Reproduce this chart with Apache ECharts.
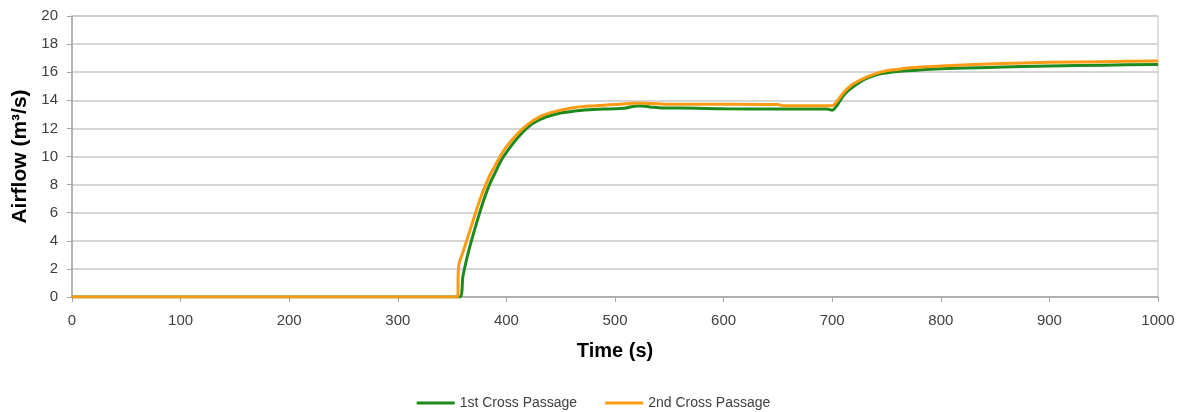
<!DOCTYPE html>
<html><head><meta charset="utf-8">
<script src="https://cdn.jsdelivr.net/npm/echarts@6/dist/echarts.min.js"></script>
<style>html,body{margin:0;padding:0;background:#fff}#c{width:1187px;height:412px}</style>
</head><body><div id="c"></div>
<script>
const seriesNames = ['1st Cross Passage', '2nd Cross Passage'];
const xTicks = [0, 100, 200, 300, 400, 500, 600, 700, 800, 900, 1000];
const yTicks = [0, 2, 4, 6, 8, 10, 12, 14, 16, 18, 20];

const time1 = [0, 357, 360, 365, 370, 375, 380, 385, 390, 395, 400, 410, 420, 430, 440, 450, 460, 470, 480, 490, 500, 510, 520, 525, 535, 545, 560, 600, 650, 695, 700, 705, 710, 715, 720, 730, 740, 750, 760, 780, 800, 850, 900, 950, 1000];
const flow1 = [0, 0, 1.5, 3.2, 4.6, 5.9, 7.1, 8.1, 8.9, 9.7, 10.3, 11.3, 12.1, 12.6, 12.9, 13.1, 13.2, 13.3, 13.35, 13.38, 13.4, 13.45, 13.6, 13.6, 13.5, 13.45, 13.45, 13.4, 13.38, 13.38, 13.3, 13.7, 14.3, 14.7, 15.0, 15.5, 15.8, 15.95, 16.05, 16.15, 16.25, 16.35, 16.45, 16.5, 16.55];

const time2 = [0, 355, 356, 360, 365, 370, 375, 380, 385, 390, 395, 400, 410, 420, 430, 440, 450, 460, 470, 480, 490, 500, 510, 520, 530, 540, 560, 600, 650, 655, 700, 705, 710, 715, 720, 730, 740, 750, 760, 770, 780, 800, 850, 900, 950, 1000];
const flow2 = [0, 0, 2.2, 3.2, 4.4, 5.6, 6.8, 7.8, 8.7, 9.4, 10.1, 10.7, 11.6, 12.3, 12.8, 13.1, 13.3, 13.45, 13.55, 13.6, 13.65, 13.7, 13.75, 13.8, 13.78, 13.75, 13.72, 13.72, 13.7, 13.62, 13.62, 14.0, 14.5, 14.9, 15.2, 15.6, 15.9, 16.1, 16.2, 16.3, 16.35, 16.45, 16.6, 16.7, 16.75, 16.8];

const pairs = (t, v) => t.map((x, i) => [x, v[i]]);
const chart = echarts.init(document.getElementById('c'));
const font = 'Liberation Sans, Arial, sans-serif';
chart.setOption({
  animation: false,
  textStyle: { fontFamily: font },
  grid: { left: 72, right: 29, top: 16, bottom: 115, show: true, borderColor: '#BFBFBF', borderWidth: 1 },
  legend: {
    top: 391, left: 'center', itemWidth: 38, itemHeight: 3, itemGap: 28,
    icon: 'rect',
    textStyle: { fontSize: 14, color: '#404040', fontFamily: font },
    data: seriesNames
  },
  xAxis: {
    type: 'value', min: xTicks[0], max: xTicks[xTicks.length - 1], interval: 100,
    name: 'Time (s)', nameLocation: 'middle', nameGap: 44,
    nameTextStyle: { fontSize: 20, fontWeight: 'bold', color: '#000' },
    axisLine: { lineStyle: { color: '#A6A6A6', width: 1.5 } },
    axisTick: { show: true, length: 5, lineStyle: { color: '#A6A6A6' } },
    axisLabel: { fontSize: 15, color: '#404040', margin: 16, formatter: v => String(v) },
    splitLine: { show: false }
  },
  yAxis: {
    type: 'value', min: yTicks[0], max: yTicks[yTicks.length - 1], interval: 2,
    name: 'Airflow (m³/s)', nameLocation: 'middle', nameGap: 39, nameRotate: 90,
    nameTextStyle: { fontSize: 21, fontWeight: 'bold', color: '#000' },
    axisLine: { show: true, lineStyle: { color: '#A6A6A6', width: 1.5 } },
    axisTick: { show: true, length: 5, lineStyle: { color: '#A6A6A6' } },
    axisLabel: { fontSize: 15, color: '#404040', margin: 14 },
    splitLine: { show: true, lineStyle: { color: '#C8C8C8', width: 1.5 } }
  },
  series: [
    { name: seriesNames[0], type: 'line', data: pairs(time1, flow1), showSymbol: false, symbol: 'none',
      smooth: 0.3, lineStyle: { color: '#1C8A1C', width: 3 }, itemStyle: { color: '#1C8A1C' } },
    { name: seriesNames[1], type: 'line', data: pairs(time2, flow2), showSymbol: false, symbol: 'none',
      smooth: 0.3, lineStyle: { color: '#FF9A14', width: 3 }, itemStyle: { color: '#FF9A14' } }
  ]
});
</script></body></html>
